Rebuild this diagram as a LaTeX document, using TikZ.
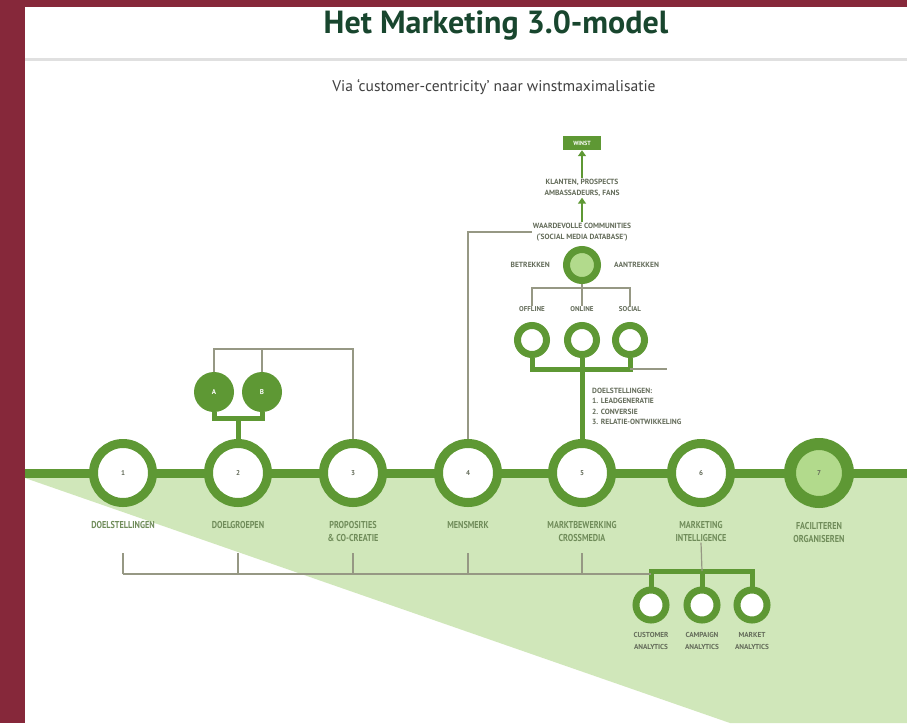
\documentclass[tikz,border=0pt]{standalone}
\usepackage{fontspec}
\setmainfont{PT Sans}
\newfontfamily\smalfont[FakeStretch=0.82]{PT Sans}
\usetikzlibrary{arrows.meta, positioning}
\definecolor{kader}{RGB}{134, 40, 58}
\definecolor{modelgroen}{RGB}{94, 152, 52}
\definecolor{vlakgroen}{RGB}{208, 231, 186}
\definecolor{stapgroen}{RGB}{178, 218, 140}
\definecolor{titelgroen}{RGB}{24, 70, 46}
\definecolor{labelgroen}{RGB}{112, 140, 90}
\definecolor{tekstgrijs}{RGB}{100, 108, 90}
\definecolor{lijngrijs}{RGB}{150, 152, 132}

\begin{document}
\begin{tikzpicture}[
  x=1pt, y=-1pt,
  node distance=10pt and 14pt,
  stap/.style={
    circle, draw=modelgroen, line width=9pt, fill=white,
    minimum size=59pt, inner sep=0pt, text=tekstgrijs,
    font=\fontsize{7}{8}\selectfont\bfseries
  },
  stapnaam/.style={
    align=center, inner sep=1pt, text=labelgroen,
    font=\smalfont\bfseries\fontsize{10}{13}\selectfont
  },
  kleinlabel/.style={
    align=center, inner sep=1pt, text=tekstgrijs,
    font=\bfseries\fontsize{7.5}{10.5}\selectfont
  },
  keuze/.style={
    circle, fill=modelgroen, minimum size=40pt, inner sep=0pt,
    text=white, font=\fontsize{7}{8}\selectfont\bfseries
  },
  kanaal/.style={
    circle, draw=modelgroen, line width=7pt, fill=white,
    minimum size=29pt, inner sep=0pt
  },
  tak/.style={draw=modelgroen, line width=5pt},
  dunlijn/.style={draw=lijngrijs, line width=1.2pt},
  pijl/.style={-{Triangle[length=6pt, width=8pt]}, draw=modelgroen, line width=2.2pt}
]
  \useasboundingbox (0,0) rectangle (907,723);

  % Achtergrond en kop
  \fill[kader] (0,0) rectangle (907,723);
  \fill[white] (25,7) rectangle (907,723);
  \draw[black!12, line width=3pt] (25,59) -- (907,59);
  \node[anchor=base, text=titelgroen, font=\bfseries\fontsize{32}{36}\selectfont] (titel) at (496,33) {Het Marketing 3.0-model};
  \node[anchor=base, text=black!75, font=\fontsize{15.5}{18}\selectfont] (ondertitel) at (494,91) {Via ‘customer-centricity’ naar winstmaximalisatie};

  % Groen vlak onder de hoofdlijn
  \fill[vlakgroen] (25,478) -- (907,478) -- (907,723) -- (730,723) -- cycle;

  % Hoofdlijn met de zeven stappen
  \draw[modelgroen, line width=9pt] (25,473) -- (907,473);
  \node[stap] (s1) at (123,473) {1};
  \node[stap] (s2) at (238,473) {2};
  \node[stap] (s3) at (353,473) {3};
  \node[stap] (s4) at (468,473) {4};
  \node[stap] (s5) at (582,473) {5};
  \node[stap] (s6) at (701,473) {6};
  \node[stap, fill=stapgroen, line width=12pt, minimum size=58pt] (s7) at (819,473) {7};

  \node[stapnaam, below=13pt of s1] (l1) {DOELSTELLINGEN};
  \node[stapnaam, below=13pt of s2] (l2) {DOELGROEPEN};
  \node[stapnaam, below=13pt of s3] (l3) {PROPOSITIES\\\& CO-CREATIE};
  \node[stapnaam, below=13pt of s4] (l4) {MENSMERK};
  \node[stapnaam, below=13pt of s5] (l5) {MARKTBEWERKING\\CROSSMEDIA};
  \node[stapnaam, below=13pt of s6] (l6) {MARKETING\\INTELLIGENCE};
  \node[stapnaam, below=13pt of s7] (l7) {FACILITEREN\\ORGANISEREN};

  % Doelgroepen A en B
  \node[keuze] (a) at (214,392) {A};
  \node[keuze] (b) at (262,392) {B};
  \coordinate (abtak) at (238,418);
  \coordinate (abboog) at (262,349);
  \draw[tak] (a.south) |- (abtak) -| (b.south);
  \draw[tak] (abtak) -- (s2);
  \draw[dunlijn] (a.north) |- (abboog) -| (s3.north);
  \draw[dunlijn] (b.north) -- (abboog);

  % Kanalen boven stap 5
  \node[kanaal] (koffline) at (532,340) {};
  \node[kanaal] (konline) at (582,340) {};
  \node[kanaal] (ksocial) at (630,340) {};
  \node[kleinlabel, above=9pt of koffline, font=\bfseries\fontsize{7}{8}\selectfont] (offline) {OFFLINE};
  \node[kleinlabel, above=9pt of konline, font=\bfseries\fontsize{7}{8}\selectfont] (online) {ONLINE};
  \node[kleinlabel, above=9pt of ksocial, font=\bfseries\fontsize{7}{8}\selectfont] (social) {SOCIAL};
  \coordinate (kanaalbalk) at (582,369);
  \coordinate (kanaaleinde) at (667,369);
  \draw[tak] (koffline.south) |- (kanaalbalk) -| (ksocial.south);
  \draw[tak] (konline.south) -- (s5.north);
  \draw[dunlijn] (ksocial.south |- kanaalbalk) -- (kanaaleinde);
  \node[kleinlabel, align=left, anchor=north west, font=\bfseries\fontsize{7.5}{10.3}\selectfont] (doelen) at (591,387)
    {DOELSTELLINGEN:\\1. LEADGENERATIE\\2. CONVERSIE\\3. RELATIE-ONTWIKKELING};

  % Community, klanten en winst
  \node[kanaal, fill=stapgroen, minimum size=31pt] (kern) at (582,265) {};
  \node[kleinlabel, left=12pt of kern] (betrekken) {BETREKKEN};
  \node[kleinlabel, right=12pt of kern] (aantrekken) {AANTREKKEN};
  \coordinate (kanaaltak) at (582,288);
  \draw[dunlijn] (kern) -- (kanaaltak);
  \draw[dunlijn] (offline.north) |- (kanaaltak) -| (social.north);
  \draw[dunlijn] (kanaaltak) -- (online.north);

  \node[kleinlabel] (gemeenschap) at (582,232) {WAARDEVOLLE COMMUNITIES\\(`SOCIAL MEDIA DATABASE')};
  \node[kleinlabel] (klanten) at (582,188) {KLANTEN, PROSPECTS\\AMBASSADEURS, FANS};
  \node[fill=modelgroen, text=white, minimum width=38pt, minimum height=14pt, inner sep=0pt,
    font=\bfseries\fontsize{6}{7}\selectfont] (winst) at (582,143) {WINST};
  \draw[pijl] (gemeenschap.north) -- (klanten.south);
  \draw[pijl] (klanten.north) -- (winst.south);
  \draw[dunlijn] (s4.north) |- (gemeenschap.west);

  % Analytics onder marketing intelligence
  \node[kanaal, minimum size=30pt] (acust) at (651,605) {};
  \node[kanaal, minimum size=30pt] (acamp) at (702,605) {};
  \node[kanaal, minimum size=30pt] (amarkt) at (752,605) {};
  \node[kleinlabel, below=8pt of acust, font=\bfseries\fontsize{7.2}{12}\selectfont] (tcust) {CUSTOMER\\ANALYTICS};
  \node[kleinlabel, below=8pt of acamp, font=\bfseries\fontsize{7.2}{12}\selectfont] (tcamp) {CAMPAIGN\\ANALYTICS};
  \node[kleinlabel, below=8pt of amarkt, font=\bfseries\fontsize{7.2}{12}\selectfont] (tmarkt) {MARKET\\ANALYTICS};
  \coordinate (analysebalk) at (702,571);
  \draw[tak] (acust.north) |- (analysebalk) -| (amarkt.north);
  \draw[tak] (acamp.north) -- (analysebalk);
  \draw[dunlijn] (l6.south) -- (analysebalk);

  % Dunne verbindingslijn onder de stappen
  \coordinate (basis) at (123,574);
  \draw[dunlijn] (s1 |- basis) -- (acust.north |- basis);
  \draw[dunlijn] (s1 |- basis) -- ++(0,-21);
  \draw[dunlijn] (s2 |- basis) -- ++(0,-21);
  \draw[dunlijn] (s3 |- basis) -- ++(0,-21);
  \draw[dunlijn] (s4 |- basis) -- ++(0,-21);
  \draw[dunlijn] (s5 |- basis) -- ++(0,-21);

\end{tikzpicture}
\end{document}
